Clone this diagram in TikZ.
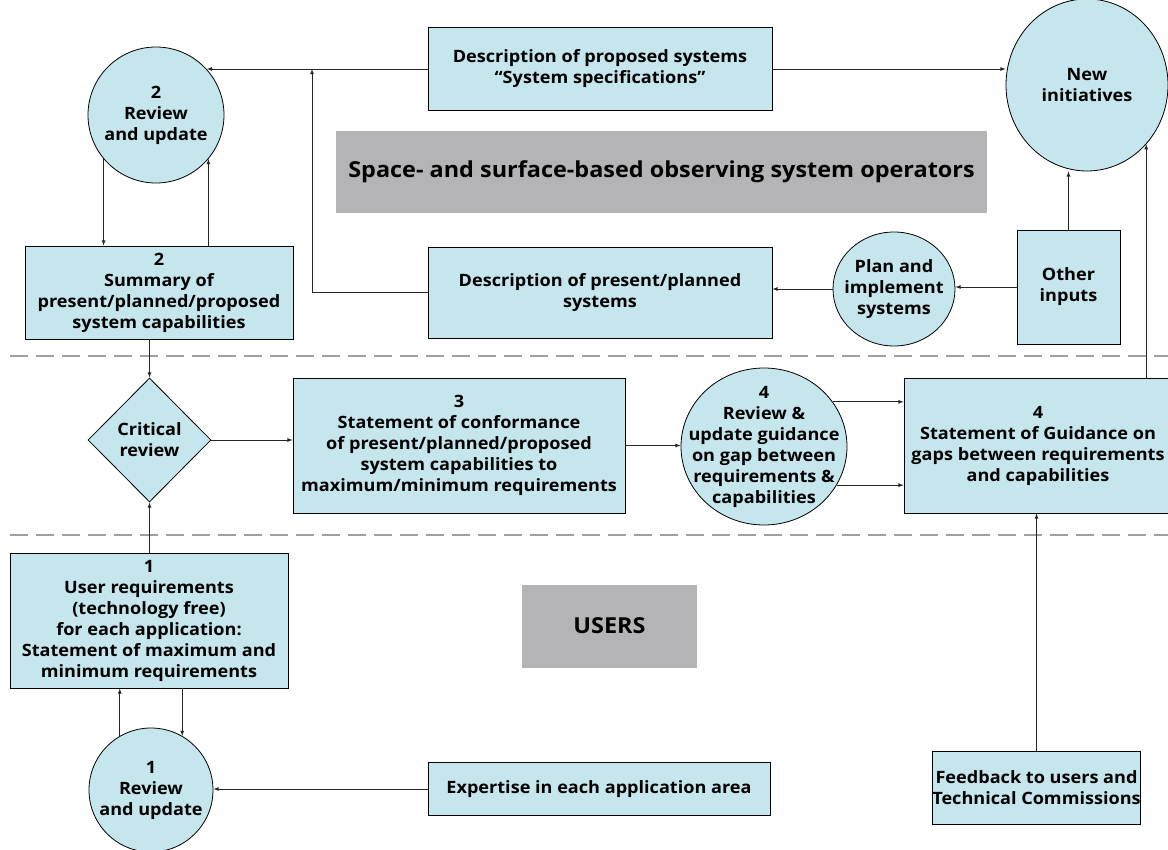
\documentclass[tikz,border=0pt]{standalone}
\usepackage{fontspec}
\setmainfont{Open Sans}[FakeStretch=1.065]
\usetikzlibrary{arrows}
\usetikzlibrary{shapes.geometric}
\definecolor{bleuclair}{RGB}{196,230,236}
\definecolor{grisbande}{RGB}{180,180,182}
\definecolor{tirets}{RGB}{160,160,160}
\tikzset{
  texte/.style={align=center,font=\bfseries\fontsize{17}{21}\selectfont},
  boite/.style={draw,fill=bleuclair,inner sep=0pt},
  rond/.style={ellipse,draw,fill=bleuclair,inner sep=0pt},
  bande/.style={fill=grisbande,inner sep=0pt,font=\bfseries\fontsize{22}{25}\selectfont},
  fleche/.style={-latex,black!85},
}
\begin{document}
\begin{tikzpicture}[x=1pt,y=-1pt,line width=0.8pt,every node/.style={texte}]
\useasboundingbox (0,0) rectangle (1168,850);

% séparations entre les niveaux
\draw[tirets,line width=1.5pt,dash pattern=on 18pt off 8pt] (10,356) -- (1168,356);
\draw[tirets,line width=1.5pt,dash pattern=on 18pt off 8pt] (10,535) -- (1168,535);

% bandeaux gris
\node[bande,minimum width=651,minimum height=82] (operateurs) at (661.5,172) {Space- and surface-based observing system operators};
\node[bande,minimum width=175,minimum height=83] (usagers) at (609.5,626) {USERS};

% niveau des opérateurs
\node[boite,minimum width=344,minimum height=83] (dps) at (600,69) {Description of proposed systems\\“System specifications”};
\node[boite,minimum width=344,minimum height=91] (dpp) at (600,292.5) {Description of present/planned\\systems};
\node[rond,minimum width=162,minimum height=172,label=center:{New\\initiatives}] (ni) at (1087,85) {};
\node[rond,minimum width=122,minimum height=114,label=center:{Plan and\\implement\\systems}] (plan) at (894,289) {};
\node[boite,minimum width=103,minimum height=114] (autres) at (1068.5,287) {Other\\inputs};
\node[rond,minimum width=136,minimum height=136,label=center:{2\\Review\\and update}] (rev2) at (156,115) {};
\node[boite,minimum width=268,minimum height=93] (synth2) at (159,292.5) {2\\Summary of\\present/planned/proposed\\system capabilities};

% niveau intermédiaire
\node[diamond,draw,fill=bleuclair,inner sep=0pt,minimum width=123,minimum height=124,label=center:{Critical\\review}] (critique) at (149.5,440) {};
\node[boite,minimum width=332,minimum height=135] (conf3) at (459,445.5) {3\\Statement of conformance\\of present/planned/proposed\\system capabilities to\\maximum/minimum requirements};
\node[rond,minimum width=166,minimum height=157,label=center:{4\\Review \&\\update guidance\\on gap between\\requirements \&\\capabilities}] (rev4) at (764,446.5) {};
\node[boite,minimum width=268,minimum height=135] (guide4) at (1038,445.5) {4\\Statement of Guidance on\\gaps between requirements\\and capabilities};

% niveau des usagers
\node[boite,minimum width=278,minimum height=135] (besoins1) at (149,620.5) {1\\User requirements\\(technology free)\\for each application:\\Statement of maximum and\\minimum requirements};
\node[rond,minimum width=124,minimum height=124,label=center:{1\\Review\\and update}] (rev1) at (151,790) {};
\node[boite,minimum width=342,minimum height=53] (expertise) at (599,789) {Expertise in each application area};
\node[boite,minimum width=207,minimum height=73] (retour) at (1036.5,787.5) {Feedback to users and\\Technical Commissions};

% flèches
\coordinate (jonction) at (312,69);
\draw[fleche] (dps.west) -- (dps.west -| rev2.42);
\draw[fleche] (dpp.west) -| (jonction);
\draw[fleche] (dps.east) -- (dps.east -| ni.west);
\draw[fleche] (rev2.220) -- (rev2.220 |- synth2.north);
\draw[fleche] (rev2.320 |- synth2.north) -- (rev2.320);
\draw[fleche] (autres.north) -- (autres.north |- ni.south);
\draw[fleche] (autres.west) -- (autres.west -| plan.east);
\draw[fleche] (plan.west) -- (plan.west -| dpp.east);
\draw[fleche] (critique.north |- synth2.south) -- (critique.north);
\draw[fleche] (critique.east) -- (critique.east -| conf3.west);
\draw[fleche] (conf3.east) -- (conf3.east -| rev4.west);
\draw[fleche] (rev4.33) -- (rev4.33 -| guide4.west);
\draw[fleche] (rev4.-28) -- (rev4.-28 -| guide4.west);
\draw[fleche] (ni.-45 |- guide4.north) -- (ni.-45);
\draw[fleche] (retour.north) -- (retour.north |- guide4.south);
\draw[fleche] (critique.south |- besoins1.north) -- (critique.south);
\draw[fleche] (rev1.120) -- (rev1.120 |- besoins1.south);
\draw[fleche] (rev1.60 |- besoins1.south) -- (rev1.60);
\draw[fleche] (expertise.west) -- (expertise.west -| rev1.east);

\end{tikzpicture}
\end{document}
